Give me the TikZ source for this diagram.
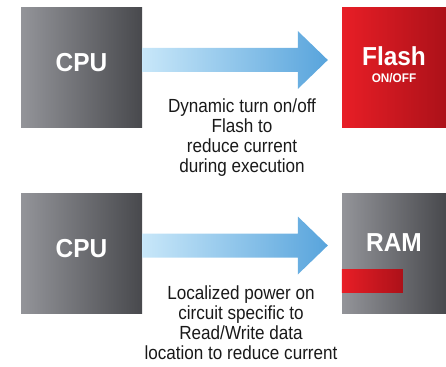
\documentclass[tikz,border=0pt]{standalone}
\usepackage{fontspec}
\setmainfont{Liberation Sans}
\newfontfamily\notefont{Liberation Sans}[FakeStretch=0.9]
\newfontfamily\chipfont{Liberation Sans}[FakeStretch=0.94]
\usetikzlibrary{calc}
\definecolor{chiplight}{RGB}{147,148,153}
\definecolor{chipdark}{RGB}{72,73,77}
\definecolor{flashlight}{RGB}{232,30,38}
\definecolor{flashdark}{RGB}{172,17,25}
\definecolor{arrowlight}{RGB}{200,231,249}
\definecolor{arrowdark}{RGB}{88,164,220}
\newcommand{\fatarrow}[2]
{   \shade[left color=arrowlight, right color=arrowdark]
      ($(#1.east)+(0,-20)$) -- ($(#2.west)+(-44,-20)$) -- ($(#2.west)+(-44,-37)$)
      -- ($(#2.west)+(-14,-8)$) -- ($(#2.west)+(-44,21)$) -- ($(#2.west)+(-44,4)$)
      -- ($(#1.east)+(0,4)$) -- cycle;
}

\begin{document}
\begin{tikzpicture}[x=1pt, y=-1pt,
    chipbox/.style={shade, left color=chiplight, right color=chipdark,
      minimum width=121pt, minimum height=120pt, inner sep=0pt},
    flashbox/.style={shade, left color=flashlight, right color=flashdark,
      minimum width=104pt, minimum height=120pt, inner sep=0pt},
    biglabel/.style={text=white, font=\chipfont\fontsize{26}{28}\selectfont\bfseries, inner sep=0pt},
    smalllabel/.style={text=white, font=\chipfont\fontsize{12.5}{14}\selectfont\bfseries, inner sep=0pt},
    note/.style={text=black!90, align=center, inner sep=0pt,
      font=\notefont\fontsize{19}{20}\selectfont}]

 \clip (0,0) rectangle (446,366);

 % top row: cpu -> flash
 \node[chipbox] (cpu1) at (81.5,68) {};
 \node[flashbox] (flash) at (394,68) {};
 \fatarrow{cpu1}{flash}
 \node[biglabel] (cpu1text) at ($(cpu1)+(0,-5)$) {CPU};
 \node[biglabel] (flashtext) at ($(flash)+(0,-12)$) {Flash};
 \node[smalllabel] (onofftext) at ($(flash)+(0,10)$) {ON/OFF};
 \node[note] (note1) at (242,137.5)
   {Dynamic turn on/off\\Flash to\\reduce current\\during execution};

 % bottom row: cpu -> ram
 \node[chipbox] (cpu2) at (81.5,253.5) {};
 \node[chipbox, minimum width=104pt] (ram) at (394,253.5) {};
 \shade[left color=flashlight, right color=flashdark]
   ($(ram.west)+(0,15.5)$) rectangle ++(61,23);
 \fatarrow{cpu2}{ram}
 \node[biglabel] (cpu2text) at ($(cpu2)+(0,-5)$) {CPU};
 \node[biglabel] (ramtext) at ($(ram)+(0,-10.5)$) {RAM};
 \node[note] (note2) at (241,323)
   {Localized power on\\circuit specific to\\Read/Write data\\location to reduce current};

\end{tikzpicture}
\end{document}
